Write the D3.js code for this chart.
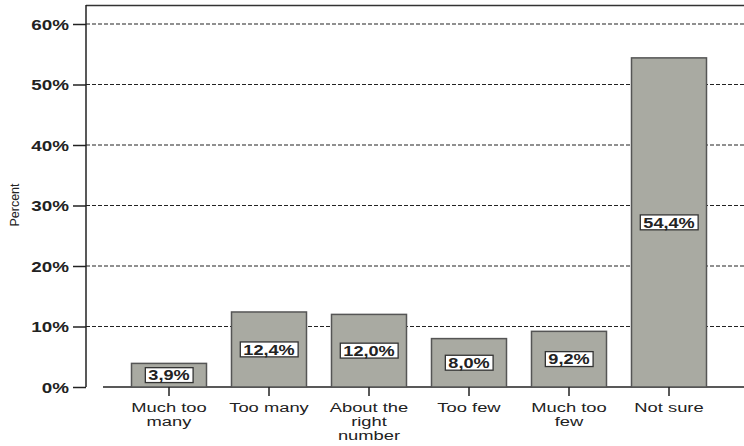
<!DOCTYPE html>
<html><head><meta charset="utf-8">
<script src="https://cdn.jsdelivr.net/npm/d3@7"></script>
<style>body{margin:0;background:#fff}svg{display:block}text{font-family:"Liberation Sans",Arial,sans-serif}</style>
</head><body>
<svg id="c" width="744" height="446"></svg>
<script>
const categories = ["Much too\nmany", "Too many", "About the\nright\nnumber", "Too few", "Much too\nfew", "Not sure"];
const values = [3.9, 12.4, 12.0, 8.0, 9.2, 54.4];
const yTicks = [0, 10, 20, 30, 40, 50, 60];

const svg = d3.select("#c");
const x = d3.scaleBand().domain(categories).range([119, 719]).paddingInner(0.25).paddingOuter(0.125);
const y = d3.scaleLinear().domain([0, 60]).range([387, 24]);

// grid
svg.append("g").selectAll("line").data(yTicks.filter(d => d > 0)).join("line")
  .attr("x1", 86).attr("x2", 744).attr("y1", d => y(d)).attr("y2", d => y(d))
  .attr("stroke", "#222").attr("stroke-width", 1.2).attr("stroke-dasharray", "4,2");

// frame top
svg.append("line").attr("x1", 86).attr("x2", 744).attr("y1", 5.5).attr("y2", 5.5).attr("stroke", "#333").attr("stroke-width", 1.5);

// y axis
const ya = svg.append("g").attr("transform", "translate(86,0)")
  .call(d3.axisLeft(y).tickValues(yTicks).tickSize(13).tickFormat(d => d + "%"));
ya.select(".domain").remove();
ya.append("line").attr("x1", 0).attr("x2", 0).attr("y1", 5).attr("y2", 387).attr("stroke", "#222").attr("stroke-width", 1.5);
ya.selectAll(".tick line").attr("stroke", "#222").attr("stroke-width", 1.5);
ya.selectAll(".tick text").attr("x", 0).attr("dy", "0.36em").attr("transform", "translate(-17,0) scale(1.3,1)")
  .attr("font-size", 14.5).attr("font-weight", "bold").attr("fill", "#222")
  .style("font-family", "'Liberation Sans',Arial,sans-serif");

// baseline
svg.append("line").attr("x1", 103).attr("x2", 744).attr("y1", y(0)).attr("y2", y(0)).attr("stroke", "#222").attr("stroke-width", 1.5);

// bars
const data = categories.map((c, i) => ({c, v: values[i]}));
svg.append("g").selectAll("rect").data(data).join("rect")
  .attr("x", d => x(d.c)).attr("width", x.bandwidth())
  .attr("y", d => y(d.v)).attr("height", d => y(0) - y(d.v))
  .attr("fill", "#a9aaa2").attr("stroke", "#555").attr("stroke-width", 1.5);

// x axis
const xa = svg.append("g").attr("transform", `translate(0,${y(0)})`)
  .call(d3.axisBottom(x).tickSize(9).tickFormat(""));
xa.select(".domain").remove();
xa.selectAll(".tick line").attr("stroke", "#222").attr("stroke-width", 1.5);
xa.selectAll(".tick").each(function(d) {
  const t = d3.select(this).append("text").attr("text-anchor", "middle").attr("fill", "#222")
    .attr("font-size", 13.5).attr("transform", "scale(1.36,1)");
  d.split("\n").forEach((line, i) => t.append("tspan").attr("x", 0).attr("y", 25 + i * 14).text(line));
});

// value labels
const lab = svg.append("g").selectAll("g").data(data).join("g")
  .attr("transform", d => `translate(${x(d.c) + x.bandwidth() / 2},${(y(d.v) + y(0)) / 2})`);
lab.append("text").attr("text-anchor", "middle").attr("dy", "0.36em")
  .attr("font-size", 14.5).attr("font-weight", "bold").attr("fill", "#222")
  .attr("transform", "scale(1.25,1)")
  .text(d => d.v.toFixed(1).replace(".", ",") + "%");
lab.each(function() {
  const g = d3.select(this), b = g.select("text").node().getBBox();
  const s = 1.25;
  g.insert("rect", "text").attr("x", b.x * s - 3).attr("y", b.y + 0.5).attr("width", b.width * s + 6).attr("height", b.height - 1)
    .attr("fill", "#fff").attr("stroke", "#333").attr("stroke-width", 1.3);
});

// y label
svg.append("text").attr("transform", "translate(19,205) rotate(-90)").attr("text-anchor", "middle")
  .attr("font-size", 12.5).attr("fill", "#222").text("Percent");
</script>
</body></html>
